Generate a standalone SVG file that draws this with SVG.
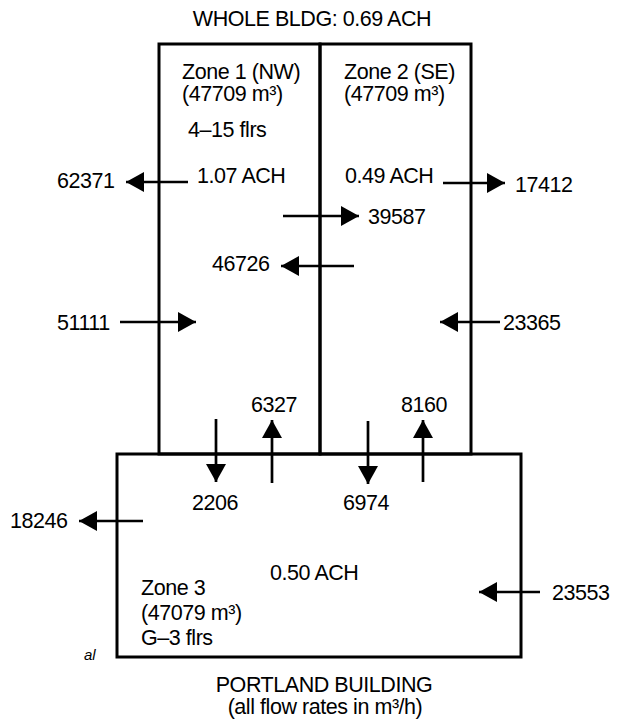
<svg xmlns="http://www.w3.org/2000/svg" width="625" height="725" viewBox="0 0 625 725">
<style>
text{font-family:"Liberation Sans",Arial,sans-serif;font-size:21.5px;letter-spacing:-0.45px;fill:#000}
.box{fill:none;stroke:#000;stroke-width:3}
.flow{stroke:#000;stroke-width:2.7;fill:none;marker-end:url(#ah)}
.note{font-style:italic;font-size:15px;letter-spacing:0}
</style>
<defs>
<marker id="ah" markerUnits="userSpaceOnUse" markerWidth="18" markerHeight="20" refX="18" refY="10" orient="auto">
<path d="M0,0 L18,10 L0,20 Z" fill="#000"/>
</marker>
</defs>
<rect width="625" height="725" fill="#fff"/>
<g id="title">
<text x="312" y="26" text-anchor="middle">WHOLE BLDG: 0.69 ACH</text>
</g>
<g id="zone1">
<rect class="box" x="159" y="44" width="161" height="410"/>
<text x="182" y="79">Zone 1 (NW)</text>
<text x="182" y="101">(47709 m³)</text>
<text x="188" y="137">4–15 flrs</text>
<text x="197" y="183">1.07 ACH</text>
</g>
<g id="zone2">
<rect class="box" x="320" y="44" width="151" height="410"/>
<text x="344" y="79">Zone 2 (SE)</text>
<text x="344" y="101">(47709 m³)</text>
<text x="345" y="183">0.49 ACH</text>
</g>
<g id="zone3">
<rect class="box" x="117" y="454" width="404" height="203"/>
<text x="270" y="580">0.50 ACH</text>
<text x="141" y="595">Zone 3</text>
<text x="141" y="620">(47079 m³)</text>
<text x="141" y="645">G–3 flrs</text>
</g>
<g id="connectors">
<line class="flow" x1="188" y1="182" x2="126" y2="182"/>
<line class="flow" x1="443" y1="183" x2="505" y2="183"/>
<line class="flow" x1="283" y1="216" x2="359" y2="216"/>
<line class="flow" x1="354" y1="266" x2="281" y2="266"/>
<line class="flow" x1="120" y1="322" x2="196" y2="322"/>
<line class="flow" x1="500" y1="322" x2="440" y2="322"/>
<line class="flow" x1="216" y1="419" x2="216" y2="482"/>
<line class="flow" x1="272" y1="483" x2="272" y2="420"/>
<line class="flow" x1="368" y1="421" x2="368" y2="484"/>
<line class="flow" x1="423" y1="482" x2="423" y2="420"/>
<line class="flow" x1="143" y1="521" x2="79" y2="521"/>
<line class="flow" x1="540" y1="592" x2="479" y2="592"/>
</g>
<g id="flow-labels">
<text x="57" y="188">62371</text>
<text x="515" y="192">17412</text>
<text x="368" y="224">39587</text>
<text x="212" y="271">46726</text>
<text x="57" y="330">51111</text>
<text x="503" y="330">23365</text>
<text x="251" y="412">6327</text>
<text x="401" y="412">8160</text>
<text x="192" y="510">2206</text>
<text x="343" y="510">6974</text>
<text x="10" y="528">18246</text>
<text x="552" y="600">23553</text>
</g>
<g id="caption">
<text x="324" y="692" text-anchor="middle">PORTLAND BUILDING</text>
<text x="325" y="714" text-anchor="middle">(all flow rates in m³/h)</text>
</g>
<text class="note" x="84" y="660">al</text>
</svg>
